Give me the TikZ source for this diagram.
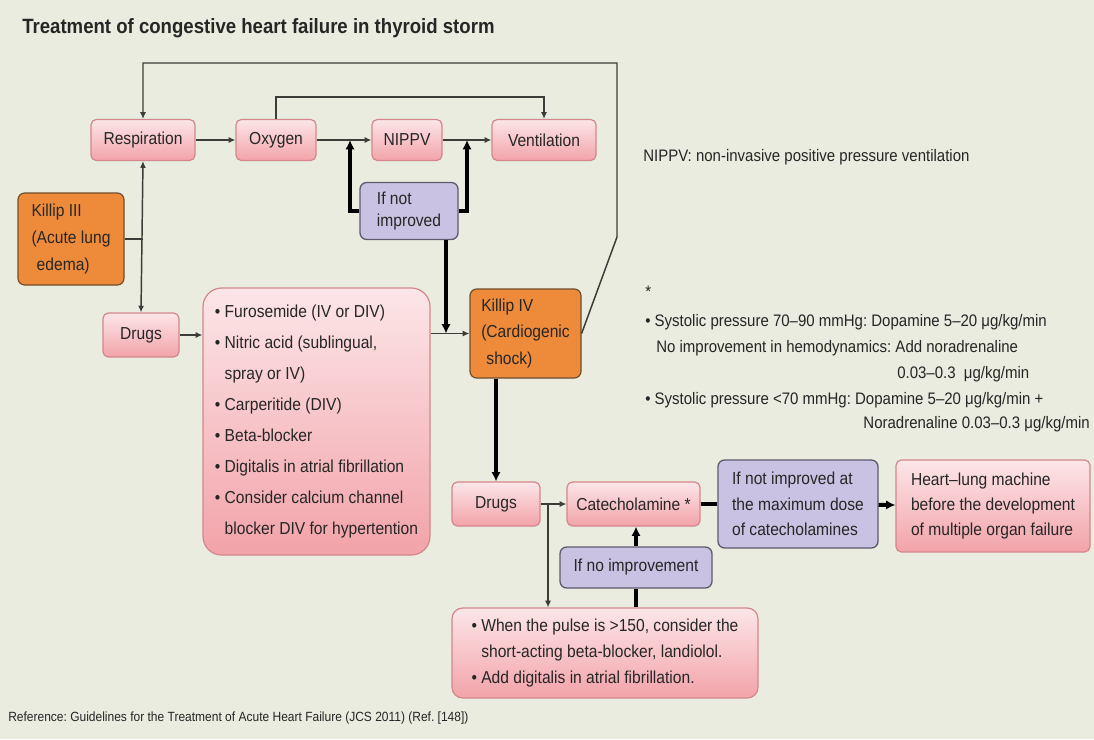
\documentclass[tikz,border=0pt]{standalone}
\usepackage{fontspec}
\setmainfont{Liberation Sans}[FakeStretch=0.9]
\usetikzlibrary{arrows.meta,positioning}
\frenchspacing
\definecolor{paper}{HTML}{E9ECDE}
\definecolor{rosetop}{HTML}{FCE6E8}
\definecolor{rosebot}{HTML}{F2A3A9}
\definecolor{roseline}{HTML}{D4868C}
\definecolor{amber}{HTML}{EE8B3B}
\definecolor{amberline}{HTML}{6F4E2E}
\definecolor{lilac}{HTML}{CAC2E2}
\definecolor{lilacline}{HTML}{5E5A6E}
\definecolor{ink}{HTML}{262626}
\definecolor{wirec}{HTML}{3C3C38}

\begin{document}
\begin{tikzpicture}[x=0.75pt,y=-0.75pt,>={Latex[length=5pt,width=4.5pt]},
pinkbox/.style={draw=roseline,line width=0.9pt,rounded corners=4pt,top color=rosetop,bottom color=rosebot,text=ink,align=center,font=\fontsize{13}{16}\selectfont,inner sep=2pt},
amberbox/.style={draw=amberline,line width=0.9pt,rounded corners=5pt,fill=amber,text=ink,align=left,font=\fontsize{13}{20}\selectfont,inner sep=2pt},
lilacbox/.style={draw=lilacline,line width=1pt,rounded corners=5pt,fill=lilac,text=ink,align=left,font=\fontsize{13}{17}\selectfont,inner sep=2pt},
listbox/.style={pinkbox,rounded corners=14pt,align=left},
wire/.style={draw=wirec,line width=1.1pt},
heavy/.style={draw=black,line width=3pt,-{Latex[length=7pt,width=7pt]}},
note/.style={anchor=west,text=ink,font=\fontsize{12.5}{15}\selectfont,inner sep=0pt}]

\fill[paper] (0,0) rectangle (1094,739);
\node[anchor=west,text=ink,font=\bfseries\fontsize{15.5}{18}\selectfont,inner sep=0pt] (title) at (22,28){Treatment of congestive heart failure in thyroid storm};

% upper row
\node[pinkbox,minimum width=78pt,minimum height=30.75pt] (resp) at (143,140){Respiration};
\node[pinkbox,minimum width=60pt,minimum height=30.75pt] (oxy) at (276,140){Oxygen};
\node[pinkbox,minimum width=52.5pt,minimum height=30.75pt] (nippv) at (407,140){NIPPV};
\node[pinkbox,minimum width=78pt,minimum height=30.75pt] (vent) at (544,140){Ventilation};
\node[lilacbox,minimum width=73.5pt,minimum height=42.75pt] (notimp) at (409,211){If not\\improved};

% left side
\node[amberbox,minimum width=79.5pt,minimum height=69pt] (killip3) at (71,239){Killip III\\(Acute lung\\\phantom{(}edema)};
\node[pinkbox,minimum width=57pt,minimum height=33pt] (drugsA) at (141,335){Drugs};
\node[listbox,font=\fontsize{13}{23.25}\selectfont,minimum width=170.25pt,minimum height=200.25pt] (meds) at (316.5,421.5){%
• Furosemide (IV or DIV)\\
• Nitric acid (sublingual,\\
\phantom{• }spray or IV)\\
• Carperitide (DIV)\\
• Beta-blocker\\
• Digitalis in atrial fibrillation\\
• Consider calcium channel\\
\phantom{• }blocker DIV for hypertention};
\node[amberbox,minimum width=83.25pt,minimum height=66.75pt] (killip4) at (525.5,333.5){Killip IV\\(Cardiogenic\\\phantom{(}shock)};

% lower row
\node[pinkbox,minimum width=66pt,minimum height=33pt] (drugsB) at (496,504){Drugs};
\node[pinkbox,minimum width=99.75pt,minimum height=33pt] (catec) at (633.5,504){Catecholamine *};
\node[lilacbox,font=\fontsize{13}{19}\selectfont,minimum width=120pt,minimum height=66pt] (maxdose) at (798,504){If not improved at\\the maximum dose\\of catecholamines};
\node[pinkbox,align=left,font=\fontsize{13}{19}\selectfont,minimum width=145.5pt,minimum height=69pt] (hlm) at (993,506){Heart–lung machine\\before the development\\of multiple organ failure};
\node[lilacbox,minimum width=114pt,minimum height=30.75pt] (noimp) at (636,567.5){If no improvement};
\node[listbox,rounded corners=8pt,font=\fontsize{13}{19.5}\selectfont,minimum width=229.5pt,minimum height=67.5pt] (pulse) at (605,653){%
• When the pulse is >150, consider the\\
\phantom{• }short-acting beta-blocker, landiolol.\\
• Add digitalis in atrial fibrillation.};

% notes
\node[note] (abbr) at (643,157){NIPPV: non-invasive positive pressure ventilation};
\node[note] (star) at (645,292){*};
\node[note] (sbp1) at (645,322){• Systolic pressure 70–90 mmHg: Dopamine 5–20 μg/kg/min};
\node[note] (sbp1b) at (656,348){No improvement in hemodynamics: Add noradrenaline};
\node[note] (sbp1c) at (897,374){0.03–0.3\ \ μg/kg/min};
\node[note] (sbp2) at (645,400){• Systolic pressure <70 mmHg: Dopamine 5–20 μg/kg/min +};
\node[note,anchor=east] (sbp2b) at (1090,424){Noradrenaline 0.03–0.3 μg/kg/min};
\node[note,font=\fontsize{10}{12}\selectfont] (source) at (8,718){Reference: Guidelines for the Treatment of Acute Heart Failure (JCS 2011) (Ref. [148])};

% junctions
\coordinate (jn1) at (350,140);
\coordinate (jn2) at (467,140);
\coordinate (jn3) at (446,333.5);
\coordinate (jn4) at (548,504);
\coordinate (loopA) at (617,237);
\coordinate (loopB) at (617,63);

% thin connectors
\draw[wire,->] (killip4.east) -- (loopA) -- (loopB) -| (resp.north);
\draw[wire,->] (oxy.north) -- ++(0,-22) -| (vent.north);
\draw[wire,->] (resp) -- (oxy);
\draw[wire,->] (oxy) -- (nippv);
\draw[wire,->] (nippv) -- (vent);
\draw[wire,<->] (resp.south) -- (drugsA.north);
\draw[wire] (killip3.east) -- (killip3.east -| resp.south);
\draw[wire,->] (drugsA.east) -- (drugsA.east -| meds.west);
\draw[wire,->] (meds.east |- killip4.west) -- (killip4.west);
\draw[wire,->] (drugsB) -- (catec);
\draw[wire,->] (jn4) -- (jn4 |- pulse.north);

% heavy connectors
\draw[heavy] (notimp.west) -| (jn1);
\draw[heavy] (notimp.east) -| (jn2);
\draw[heavy] (notimp.south -| jn3) -- (jn3);
\draw[heavy] (killip4.south -| drugsB.north) -- (drugsB.north);
\draw[heavy,-] (catec) -- (maxdose);
\draw[heavy] (maxdose) -- (hlm);
\draw[heavy] (noimp.north) -- (noimp.north |- catec.south);
\draw[heavy,-] (noimp.south) -- (noimp.south |- pulse.north);
\end{tikzpicture}
\end{document}
